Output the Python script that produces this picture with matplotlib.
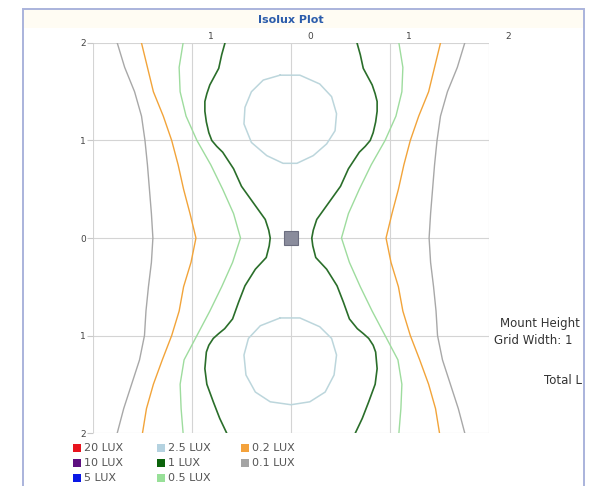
import matplotlib

matplotlib.use("Agg")
import matplotlib.pyplot as plt
import numpy as np
from matplotlib.patches import Rectangle

# left half of each isolux line (right half is its mirror image)
LINE_Y = [2, 1.75, 1.5, 1.25, 1.0, 0.75, 0.5, 0.25, 0, -0.25, -0.5, -0.75, -1.0, -1.25, -1.5, -1.75, -2]
GRAY_X = [-1.755, -1.68, -1.58, -1.51, -1.475, -1.45, -1.43, -1.41, -1.395, -1.41, -1.44, -1.465, -1.48,
          -1.53, -1.61, -1.69, -1.755]
ORANGE_X = [-1.51, -1.45, -1.39, -1.29, -1.205, -1.14, -1.085, -1.02, -0.96, -1.01, -1.085, -1.13, -1.205,
            -1.30, -1.39, -1.46, -1.50]
LGREEN_X = [-1.09, -1.13, -1.12, -1.06, -0.95, -0.81, -0.69, -0.58, -0.51, -0.59, -0.70, -0.82, -0.95,
            -1.08, -1.12, -1.11, -1.09]

DGREEN_Y = [2, 1.88, 1.74, 1.57, 1.48, 1.40, 1.30, 1.19, 1.08, 1.0, 0.94, 0.88, 0.71, 0.53, 0.36, 0.19,
            0.08, 0, -0.08, -0.2, -0.32, -0.49, -0.66, -0.83, -0.93, -0.98, -1.03, -1.10, -1.17, -1.34,
            -1.5, -1.68, -1.85, -2]
DGREEN_X = [-0.667, -0.70, -0.73, -0.82, -0.85, -0.87, -0.87, -0.855, -0.83, -0.80, -0.75, -0.69, -0.58,
            -0.50, -0.38, -0.26, -0.225, -0.21, -0.22, -0.25, -0.36, -0.465, -0.53, -0.59, -0.67, -0.73,
            -0.785, -0.83, -0.855, -0.87, -0.85, -0.785, -0.72, -0.65]

# 2.5 lux closed loops
BLUE_UP_X = [-0.11, 0.09, 0.29, 0.41, 0.46, 0.445, 0.36, 0.225, 0.06, -0.08, -0.245, -0.40, -0.475,
             -0.465, -0.40, -0.28, -0.11]
BLUE_UP_Y = [1.67, 1.67, 1.58, 1.45, 1.275, 1.10, 0.965, 0.845, 0.766, 0.766, 0.845, 0.98, 1.17, 1.34,
             1.50, 1.62, 1.67]
BLUE_LO_X = [-0.11, 0.09, 0.29, 0.41, 0.46, 0.435, 0.345, 0.19, 0.0, -0.21, -0.36, -0.455, -0.475, -0.43,
             -0.31, -0.11]
BLUE_LO_Y = [-0.82, -0.82, -0.91, -1.03, -1.20, -1.405, -1.58, -1.68, -1.71, -1.68, -1.58, -1.405, -1.20,
             -1.03, -0.90, -0.82]

GRID_VALUES = [-2, -1, 0, 1, 2]
Y_TICK_LABELS = ["2", "1", "0", "1", "2"]
TOP_TICKS = [-1, 0, 1, 2]
TOP_TICK_LABELS = ["1", "0", "1", "2"]

LEGEND_LABELS = ["20 LUX", "10 LUX", "5 LUX", "2.5 LUX", "1 LUX", "0.5 LUX", "0.2 LUX", "0.1 LUX"]
LEGEND_COLORS = ["#e8141e", "#5e1080", "#0a18e6", "#b4d2e0", "#0b630b", "#98e098", "#f4a23c", "#a4a4a4"]

SIDE_TEXTS = ["Mount Height", "Grid Width: 1", "Total L"]

W, H = 591, 486


def fx(px):
    return px / W


def fy(py):
    return 1 - py / H


fig = plt.figure(figsize=(W / 100, H / 100), dpi=100)
plt.rcParams["font.family"] = ["DejaVu Sans"]

# outer panel frame and faint header band
fig.patches.append(Rectangle((fx(24), fy(28)), fx(559), 18 / H, transform=fig.transFigure,
                             facecolor="#fffcf3", edgecolor="none", zorder=0))
fig.patches.append(Rectangle((fx(23), -0.02), fx(561), fy(9) + 0.02, transform=fig.transFigure,
                             facecolor="none", edgecolor="#aab3dc", linewidth=1.4, zorder=1))

ax = fig.add_axes([fx(93), fy(433), 396 / W, 390 / H])
ax.set_xlim(-2, 2)
ax.set_ylim(-2, 2)
ax.patch.set_alpha(0)

for v in GRID_VALUES:
    ax.axvline(v, color="#d4d4d4", linewidth=0.8, zorder=1)
    ax.axhline(v, color="#d4d4d4", linewidth=0.8, zorder=1)
for s in ax.spines.values():
    s.set_visible(False)

ax.set_xticks([])
ax.set_yticks(GRID_VALUES)
ax.set_yticklabels(Y_TICK_LABELS)
ax.tick_params(axis="y", length=4, color="#c8c8c8", width=0.8, pad=1, labelsize=6.5, labelcolor="#444444")

for v, lab in zip(TOP_TICKS, TOP_TICK_LABELS):
    ax.text(v + 0.19, 2.065, lab, ha="center", va="center", fontsize=6.5, color="#444444", clip_on=False)

gray_x = np.array(GRAY_X)
orange_x = np.array(ORANGE_X)
lgreen_x = np.array(LGREEN_X)
dgreen_x = np.array(DGREEN_X)

for xs, ys, color, lw in [
    (gray_x, LINE_Y, "#a8a8a8", 1.0),
    (orange_x, LINE_Y, "#f2a43a", 1.0),
    (lgreen_x, LINE_Y, "#9edc9e", 1.0),
    (dgreen_x, DGREEN_Y, "#2a6e2a", 1.2),
]:
    ax.plot(xs, ys, color=color, linewidth=lw, zorder=3, solid_joinstyle="round")
    ax.plot(-xs, ys, color=color, linewidth=lw, zorder=3, solid_joinstyle="round")

ax.plot(BLUE_UP_X, BLUE_UP_Y, color="#bcd6dc", linewidth=1.1, zorder=3)
ax.plot(BLUE_LO_X, BLUE_LO_Y, color="#bcd6dc", linewidth=1.1, zorder=3)

# luminaire marker
ax.add_patch(Rectangle((-0.075, -0.072), 0.15, 0.144, facecolor="#8a8c9c", edgecolor="#6c6e80",
                       linewidth=0.8, zorder=5))

fig.text(fx(291), fy(20), "Isolux Plot", ha="center", va="center", fontsize=8, fontweight="bold",
         color="#2b5cab")

# legend, filled column by column
for i, (lab, col) in enumerate(zip(LEGEND_LABELS, LEGEND_COLORS)):
    c, r = divmod(i, 3)
    x0 = 73 + c * 84
    yc = 448 + r * 15
    fig.patches.append(Rectangle((fx(x0), fy(yc + 4)), 8 / W, 8 / H, transform=fig.transFigure,
                                 facecolor=col, edgecolor="none"))
    fig.text(fx(x0 + 11), fy(yc), lab, ha="left", va="center", fontsize=8, color="#555555")

for txt, x0, y0 in zip(SIDE_TEXTS, [500, 494, 544], [323, 340, 380]):
    fig.text(fx(x0), fy(y0), txt, ha="left", va="center", fontsize=8.5, color="#333333")

fig.savefig("out.png", dpi=100)
plt.close(fig)
